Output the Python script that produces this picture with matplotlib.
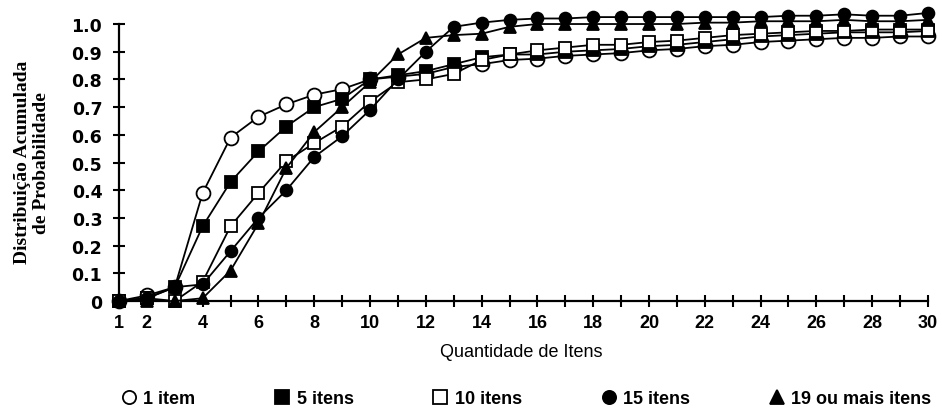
import numpy as np
import matplotlib
matplotlib.use('Agg')
import matplotlib.pyplot as plt
from matplotlib.lines import Line2D

# Quantidade de itens (eixo x)
itens = np.arange(1, 31)

# Distribuição acumulada
um_item = [0.00, 0.02, 0.05, 0.39, 0.59, 0.665, 0.71, 0.745, 0.765, 0.80,
           0.81, 0.82, 0.845, 0.855, 0.87, 0.875, 0.885, 0.89, 0.895, 0.905,
           0.91, 0.92, 0.925, 0.935, 0.94, 0.945, 0.95, 0.95, 0.955, 0.955]
cinco_itens = [0.00, 0.01, 0.05, 0.27, 0.43, 0.54, 0.63, 0.70, 0.73, 0.80,
               0.815, 0.83, 0.855, 0.88, 0.89, 0.89, 0.90, 0.905, 0.91, 0.92,
               0.925, 0.935, 0.945, 0.955, 0.96, 0.965, 0.97, 0.97, 0.97, 0.975]
dez_itens = [0.00, 0.01, 0.00, 0.07, 0.27, 0.39, 0.505, 0.57, 0.63, 0.72,
             0.79, 0.80, 0.82, 0.87, 0.89, 0.905, 0.915, 0.925, 0.925, 0.935,
             0.94, 0.95, 0.96, 0.965, 0.97, 0.975, 0.975, 0.98, 0.98, 0.98]
quinze_itens = [0.00, 0.01, 0.05, 0.06, 0.18, 0.30, 0.40, 0.52, 0.595, 0.69,
                0.80, 0.90, 0.99, 1.005, 1.015, 1.02, 1.02, 1.025, 1.025, 1.025,
                1.025, 1.025, 1.025, 1.025, 1.03, 1.03, 1.035, 1.03, 1.03, 1.04]
dezenove_mais = [0.00, 0.00, 0.00, 0.01, 0.11, 0.28, 0.48, 0.61, 0.70, 0.79,
                 0.89, 0.95, 0.96, 0.965, 0.99, 1.00, 1.00, 1.00, 1.00, 1.00,
                 1.00, 1.005, 1.005, 1.01, 1.01, 1.01, 1.015, 1.01, 1.01, 1.015]

rotulos = ['1 item', '5 itens', '10 itens', '15 itens', '19 ou mais itens']

sans = ['Liberation Sans', 'DejaVu Sans']
serif = ['Liberation Serif', 'DejaVu Serif']

fig = plt.figure(figsize=(9.42, 4.14), dpi=100)
ax = fig.add_axes([0.1263, 0.2705, 0.8588, 0.7092])

series = [
    (um_item, 'o', 'white', 10),
    (cinco_itens, 's', 'black', 8.5),
    (dez_itens, 's', 'white', 8.5),
    (quinze_itens, 'o', 'black', 8.5),
    (dezenove_mais, '^', 'black', 8.5),
]

for valores, marcador, cor, tam in series:
    ax.plot(itens, valores, color='black', linewidth=1.3, marker=marcador,
            markersize=tam, markerfacecolor=cor, markeredgecolor='black',
            markeredgewidth=1.3, clip_on=False, zorder=3)

ax.set_xlim(1, 30)
ax.set_ylim(0, 1.06)
ax.spines['top'].set_visible(False)
ax.spines['right'].set_visible(False)
ax.spines['left'].set_bounds(0, 1.0)
ax.spines['left'].set_linewidth(1.6)
ax.spines['bottom'].set_linewidth(1.6)

ax.set_xticks(itens)
ax.set_xticklabels([str(i) if (i == 1 or i % 2 == 0) else '' for i in itens],
                   family=sans, fontsize=13, fontweight='bold')
yt = np.round(np.arange(0, 1.01, 0.1), 1)
ax.set_yticks(yt)
ax.set_yticklabels(['0'] + ['%.1f' % v for v in yt[1:]],
                   family='DejaVu Sans', fontsize=12.5, fontweight='bold')
ax.tick_params(direction='inout', length=8, width=1.5, pad=5)
ax.tick_params(axis='y', pad=8)

fig.text(0.034, 0.607, 'Distribuição Acumulada\nde Probabilidade', rotation=90,
         ha='center', va='center', family=serif, fontsize=14,
         fontweight='bold', linespacing=1.2)
fig.text(0.553, 0.148, 'Quantidade de Itens', ha='center', va='center',
         family=sans, fontsize=13)

handles = [Line2D([], [], linestyle='none', marker=m, markersize=9.5,
                  markerfacecolor=c, markeredgecolor='black',
                  markeredgewidth=1.3) for _, m, c, _ in series]
fig.legend(handles, rotulos, loc='center', ncol=5, frameon=False,
           bbox_to_anchor=(0.558, 0.035), columnspacing=4.3,
           handletextpad=0.3, handlelength=1.0,
           prop={'family': sans, 'size': 13, 'weight': 'bold'})

fig.savefig('out.png', dpi=100)
